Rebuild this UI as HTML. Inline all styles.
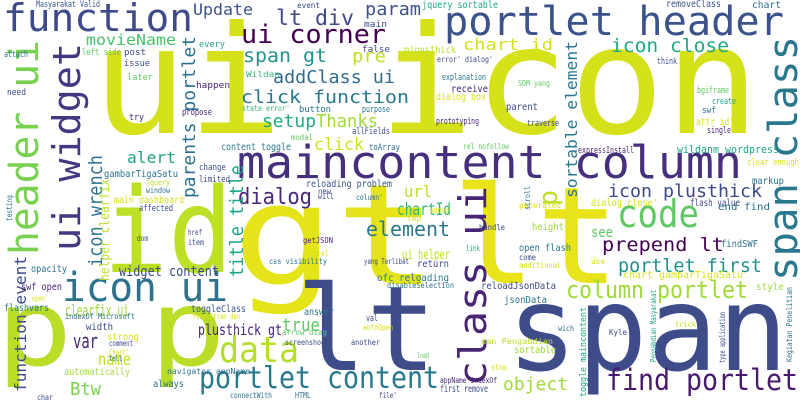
<!DOCTYPE html>
<html><head><meta charset="utf-8"><style>
html,body{margin:0;padding:0;background:#fff;}
svg{display:block;font-family:"DejaVu Sans Mono","Liberation Mono",monospace;}
</style></head><body>
<svg id="cloud" width="800" height="400" viewBox="0 0 800 400"></svg>
<script>
// [text, x, baseline y, font size, color, vertical(1), width]
const words = [
["ui icon",92,133,150,"#d5e21a",0,668],
["id",103,272,118,"#bddf26",0,130],
["gt",232,284,140,"#e5e419",0,206],
["lt",452,283,135,"#e8e419",0,168],
["lt span",296,370,118,"#3e4c8a",0,492],
["p p",-4,365,105,"#bade28",0,230],
["maincontent column",237,178,45,"#46307e",0,505],
["portlet header",444,35,40,"#3b528b",0,340],
["function",3,31,38,"#3e4a89",0,190],
["ui widget",80,251,38,"#453781",1,208],
["header ui",38,255,40,"#7ad151",1,215],
["span class",797,281,40,"#2a788e",1,245],
["class ui",486,386,38,"#482475",1,200],
["icon ui",62,301,40,"#2c728e",0,166],
["code",617,227,38,"#5ec962",0,82],
["data",219,362,36,"#b5de2b",0,80],
["portlet content",199,388,30,"#2a788e",0,240],
["find portlet",606,390,29,"#481a6c",0,192],
["ui corner",241,43,26,"#440154",0,145],
["lt div",276,25,21,"#3e4989",0,78],
["Update",193,15,16,"#3b528b",0,60],
["param",365,15,18,"#3b528b",0,56],
["span gt",243,62,19,"#21918c",0,84],
["pre",352,62,18,"#c2df23",0,34],
["addClass ui",273,83,18,"#2f6c8e",0,122],
["click function",241,103,18,"#2a788e",0,168],
["setup",262,127,18,"#22a884",0,54],
["Thanks",316,127,18,"#a0da39",0,62],
["click",314,150,17,"#d0e11c",0,50],
["movieName",86,45,15,"#4ac16d",0,90],
["parents portlet",195,198,18,"#2c728e",1,162],
["alert",127,163,16,"#20a486",0,49],
["dialog",238,204,22,"#482878",0,74],
["reloading problem",306,187,10,"#3b528b",0,86],
["content toggle",221,150,10,"#2a788e",0,70],
["icon wrench",102,267,19,"#2c728e",1,112],
["helper clearfix",109,281,13,"#bddf26",1,102],
["title title",243,277,19,"#20a486",1,112],
["chart id",463,50,16,"#d2e21b",0,90],
["icon close",611,52,19,"#22a884",0,118],
["sortable element",577,198,16,"#2a788e",1,157],
["icon plusthick",608,197,18,"#3e4a89",0,154],
["url",404,197,16,"#bddf26",0,28],
["p",557,206,26,"#bddf26",1,16],
["minusthick",404,53,10,"#bddf26",0,52],
["jquery sortable",422,8,10,"#20a486",0,76],
["removeClass",666,7,10,"#3b528b",0,55],
["chart",752,8,10,"#2c728e",0,29],
["receive",451,92,10,"#482475",0,37],
["dialog box",436,100,10,"#d8e219",0,50],
["parent",506,110,10,"#3e4a89",0,32],
["attr id'",696,125,10,"#d8e219",0,38],
["wildanm wordpress",677,153,11,"#20a486",0,102],
["markup",752,184,10,"#2c728e",0,32],
["clear enough",747,165,9,"#d8e219",0,52],
["chartId",397,215,17,"#35b779",0,54],
["element",366,236,20,"#2a788e",0,84],
["ui helper",402,259,13,"#bddf26",0,48],
["see",591,237,14,"#5ec962",0,22],
["prepend lt",602,251,19,"#440154",0,122],
["portlet first",618,272,19,"#21918c",0,144],
["chart gambarTigaSatu",623,278,10,"#d8e219",0,120],
["column portlet",566,298,24,"#a0da39",0,182],
["object",503,390,18,"#a0da39",0,65],
["toggle maincontent",586,397,9,"#20a486",1,90],
["sortable",514,353,10,"#a0da39",0,42],
["reloadJsonData",481,289,10,"#3e4a89",0,75],
["jsonData",504,303,10,"#2c728e",0,43],
["first remove",440,392,10,"#3e4a89",0,48],
["ofc reloading",377,281,10,"#2a788e",0,72],
["return",417,267,10,"#3e4a89",0,32],
["disableSelection",387,288,8,"#2c728e",0,67],
["open flash",519,251,10,"#2a788e",0,52],
["height",532,230,10,"#a0da39",0,32],
["flash value",690,206,10,"#3e4a89",0,50],
["end find",718,210,10,"#2c728e",0,52],
["findSWF",721,247,10,"#2c728e",0,37],
["style",756,290,10,"#a0da39",0,28],
["dialog close'",591,206,10,"#d8e219",0,67],
["generated",519,208,8,"#d8e219",0,42],
["handle",479,230,8,"#3e4a89",0,26],
["link",466,251,8,"#20a486",0,14],
["come",519,260,8,"#3e4a89",0,17],
["additional",519,268,8,"#d8e219",0,42],
["use",591,264,8,"#d8e219",0,14],
["tmp",407,221,9,"#d8e219",0,14],
["added",430,213,8,"#d8e219",0,19],
["will",318,199,8,"#3e4a89",0,16],
["new",318,194,8,"#3e4a89",0,13],
["column'",356,200,8,"#2c728e",0,27],
["yang Terlibat",364,264,8,"#3e4a89",0,45],
["widget content",119,276,14,"#3e4a89",0,100],
["clearfix ui",65,316,16,"#a0da39",0,64],
["plusthick gt",198,335,15,"#482475",0,84],
["true",282,331,18,"#5ec962",0,38],
["var",73,348,20,"#482475",0,25],
["name",98,365,17,"#c2df23",0,33],
["Btw",70,395,18,"#7ad151",0,31],
["function event",26,392,16,"#3e4a89",1,136],
["opacity",31,272,10,"#2c728e",0,36],
["swf open",21,290,10,"#482475",0,41],
["flashvars",4,311,10,"#2a788e",0,45],
["toggleClass",191,312,10,"#3b528b",0,55],
["answer",304,315,10,"#2c728e",0,30],
["val",366,321,9,"#3e4a89",0,12],
["autoOpen",363,330,8,"#d8e219",0,30],
["another",351,345,8,"#3e4a89",0,29],
["screenshoot",285,345,8,"#3e4a89",0,44],
["arrow diag",282,335,8,"#5ec962",0,45],
["Penelitian dan",193,319,8,"#d8e219",0,47],
["indexOf Microsoft",65,319,8,"#2c728e",0,70],
["open'",32,301,8,"#d8e219",0,16],
["automatically",64,375,10,"#a0da39",0,66],
["always",153,387,10,"#2c728e",0,31],
["navigator appName",167,374,8,"#2c728e",0,83],
["connectWith",230,398,8,"#2c728e",0,42],
["HTML",295,398,8,"#2c728e",0,16],
["file'",379,398,8,"#3e4a89",0,18],
["appName indexOf",440,383,8,"#482475",0,57],
["dan Pengabdian",481,344,8,"#bddf26",0,72],
["load",417,358,8,"#5ec962",0,12],
["stop",491,370,8,"#d8e219",0,16],
["wich",558,331,8,"#2c728e",0,16],
["Kyle",609,335,8,"#3e4a89",0,18],
["trick",675,327,8,"#bddf26",0,21],
["strong",107,340,10,"#d8e219",0,32],
["width",86,330,10,"#3e4a89",0,27],
["comment",109,346,8,"#3e4a89",0,24],
["Chart'",109,355,8,"#d8e219",0,20],
["tell",109,361,8,"#2c728e",0,13],
["char",37,400,8,"#3e4a89",0,16],
["main dashboard",114,203,10,"#d8e219",0,70],
["affected",139,211,9,"#3e4a89",0,34],
["dom",137,241,8,"#3e4a89",0,11],
["href",188,235,8,"#3e4a89",0,14],
["item",188,245,8,"#3e4a89",0,16],
["getJSON",303,243,8,"#482475",0,30],
["Cancel",305,256,8,"#d8e219",0,24],
["css visibility",269,264,8,"#2c728e",0,58],
["Masyarakat Valid",36,7,9,"#3b528b",0,64],
["left side",82,55,9,"#5ec962",0,39],
["post",124,55,9,"#3e4a89",0,22],
["attach",4,57,9,"#2c728e",0,24],
["need",7,95,9,"#3e4a89",0,19],
["issue",124,66,9,"#3e4a89",0,26],
["later",127,80,9,"#5ec962",0,26],
["happen",196,88,9,"#482475",0,34],
["try",129,120,9,"#482475",0,15],
["propose",182,115,9,"#482475",0,30],
["button",299,112,9,"#2c728e",0,32],
["every",199,47,9,"#20a486",0,26],
["state error'",242,111,8,"#35b779",0,48],
["purpose",362,112,9,"#2c728e",0,28],
["false",362,52,9,"#3e4a89",0,28],
["main",364,27,9,"#3e4a89",0,23],
["event",297,8,8,"#3e4a89",0,23],
["Wildan",246,77,8,"#35b779",0,34],
["modal",291,140,8,"#5ec962",0,22],
["allFields",352,134,9,"#3e4a89",0,38],
["toArray",369,150,9,"#2c728e",0,31],
["change",199,170,9,"#3e4a89",0,27],
["limited",199,182,9,"#3e4a89",0,31],
["gambarTigaSatu",104,177,10,"#2c728e",0,74],
["jquery",146,185,8,"#bddf26",0,24],
["window",146,193,8,"#2c728e",0,24],
["explanation",442,80,9,"#2c728e",0,44],
["error' dialog'",437,62,8,"#3e4a89",0,56],
["SDM yang",518,86,8,"#5ec962",0,32],
["think",657,64,9,"#3e4a89",0,20],
["bgiframe",697,93,9,"#5ec962",0,32],
["create",712,104,9,"#20a486",0,24],
["swf",702,113,9,"#2c728e",0,14],
["single",707,133,9,"#482475",0,24],
["prototyping",436,124,9,"#482475",0,43],
["traverse",527,126,9,"#3e4a89",0,32],
["rel nofollow",463,149,8,"#5ec962",0,46],
["expressInstall",578,153,9,"#482475",0,56],
["testing",12,221,8,"#2c728e",1,26],
["scroll",530,210,8,"#2c728e",1,24],
["type application",725,363,8,"#3e4a89",1,51],
["Pengabdian Masyarakat",656,362,8,"#20a486",1,72],
["Kegiatan Penelitian",792,362,8,"#2c728e",1,75]
];
const NS = "http://www.w3.org/2000/svg";
const svg = document.getElementById('cloud');
for (const w of words) {
  const t = document.createElementNS(NS, 'text');
  
  
  t.setAttribute('font-size', w[3]);
  t.setAttribute('fill', w[4]);
  t.setAttribute('textLength', w[6]);
  t.setAttribute('lengthAdjust', 'spacingAndGlyphs');
  if (w[5]) {
    t.setAttribute('transform', 'translate(' + w[1] + ',' + w[2] + ') rotate(-90)');
    t.setAttribute('x', 0); t.setAttribute('y', 0);
  } else {
    t.setAttribute('x', w[1]); t.setAttribute('y', w[2]);
  }
  t.textContent = w[0];
  svg.appendChild(t);
}
</script>
</body></html>
